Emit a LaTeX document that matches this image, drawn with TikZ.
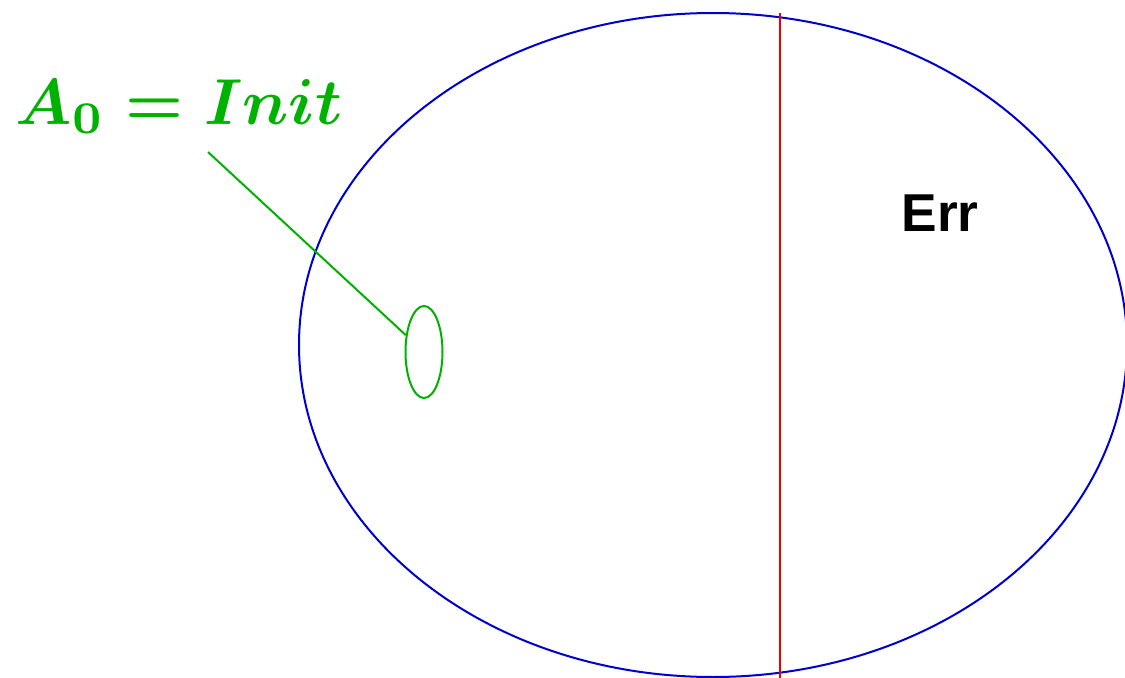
\documentclass[tikz,border=0pt]{standalone}
\usepackage{fontspec}
\usepackage{amsmath}
\usepackage{graphicx}
\newfontfamily\errfont{Liberation Sans}
\usetikzlibrary{shapes.geometric}
\definecolor{ogreen}{RGB}{0,178,0}
\definecolor{oblue}{RGB}{0,0,205}
\definecolor{ored}{RGB}{235,0,0}
\begin{document}
\begin{tikzpicture}[x=0.75pt,y=-0.75pt,
  setshape/.style={ellipse,draw,inner sep=0pt,line width=1.5pt}]
\useasboundingbox (0,0) rectangle (1125,678);
\begin{scope}
\clip (0,0) rectangle (1125,678);
\node[setshape,draw=oblue,minimum width=621pt,minimum height=498pt] (univ) at (713,345) {};
\end{scope}
\coordinate (rtop) at (780,13);
\coordinate (rbot) at (780,678);
\draw[ored,line width=1.5pt] (rtop) -- (rbot);
\node[setshape,draw=ogreen,minimum width=27.75pt,minimum height=69pt] (init) at (424,352) {};
\node[text=ogreen,anchor=base,inner sep=0pt] (lbl) at (179,124) {\scalebox{4.87}{$\boldsymbol{A_0 = Init}$}};
\coordinate (lstart) at (208,152);
\draw[ogreen,line width=1.5pt] (lstart) -- (init);
\node[font=\errfont\bfseries\fontsize{40}{48}\selectfont] (err) at (940,213) {Err};
\end{tikzpicture}
\end{document}
